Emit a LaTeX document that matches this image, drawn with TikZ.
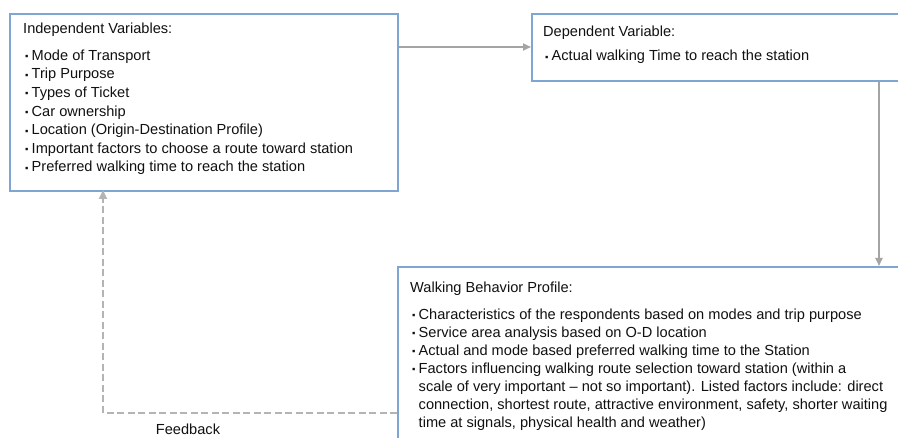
\documentclass[tikz,border=0pt]{standalone}
\usepackage{fontspec}
\setmainfont{Liberation Sans}
\usetikzlibrary{arrows.meta}
\definecolor{boxblue}{HTML}{7FA6D3}
\definecolor{arrgrey}{HTML}{A4A4A4}
\definecolor{dashgrey}{HTML}{B4B4B4}
\definecolor{txt}{HTML}{111111}
\newcommand{\bul}{\makebox[8.5pt][l]{\hspace*{2pt}\raisebox{0.6pt}{\fontsize{9.5}{10}\selectfont ▪}}}
\newcommand{\cont}{\hspace*{8.5pt}}
\tikzset{
  box/.style={draw=boxblue, line width=1.8pt, fill=white, rectangle, inner sep=0pt, anchor=north west},
  boxtext/.style={anchor=north west, inner sep=0pt, align=left, text=txt, font=\fontsize{14.6}{18.6}\selectfont},
  conn/.style={draw=arrgrey, line width=1.8pt, -{Triangle[length=8pt,width=7pt]}},
  fb/.style={draw=dashgrey, line width=1.8pt, dash pattern=on 7pt off 3.5pt, -{Triangle[length=9pt,width=8pt]}},
}
\begin{document}
\begin{tikzpicture}[x=1pt,y=-1pt]
\useasboundingbox (0,0) rectangle (898,438);
\clip (0,0) rectangle (898,438);
\fill[white] (0,0) rectangle (898,438);
% boxes
\node[box, minimum width=388pt, minimum height=177pt] (ind) at (9,13) {};
\node[box, minimum width=400pt, minimum height=67pt] (dep) at (531,13) {};
\node[box, minimum width=520pt, minimum height=200pt] (wbp) at (397,266) {};
% connectors
\coordinate (depin) at (531,47);
\draw[conn] (ind.east |- depin) -- (depin);
\coordinate (wtop) at (879,266);
\draw[conn] (wtop |- dep.south) -- (wtop);
\coordinate (fbcorner) at (103,413);
\coordinate (fbend) at (103,190);
\draw[fb] (wbp.west |- fbcorner) -- (fbcorner) -- (fbend);
\node[font=\fontsize{14.6}{16}\selectfont, text=txt, inner sep=0pt] (fblabel) at (188,429) {Feedback};
% texts
\node[boxtext] (indt) at (23,23) {Independent Variables:\\[8pt]
\bul Mode of Transport\\
\bul Trip Purpose\\
\bul Types of Ticket\\
\bul Car ownership\\
\bul Location (Origin-Destination Profile)\\
\bul Important factors to choose a route toward station\\
\bul Preferred walking time to reach the station};
\node[boxtext] (dept) at (543,25.5) {Dependent Variable:\\[6pt]
\bul Actual walking Time to reach the station};
\node[boxtext, font=\fontsize{14.6}{18}\selectfont] (wbpt) at (410,282) {Walking Behavior Profile:\\[8.5pt]
\bul Characteristics of the respondents based on modes and trip purpose\\
\bul Service area analysis based on O-D location\\
\bul Actual and mode based preferred walking time to the Station\\
\bul Factors influencing walking route selection toward station (within a\\
\cont scale of very important -- not so important). Listed factors include: direct\\
\cont connection, shortest route, attractive environment, safety, shorter waiting\\
\cont time at signals, physical health and weather)};
\end{tikzpicture}
\end{document}
